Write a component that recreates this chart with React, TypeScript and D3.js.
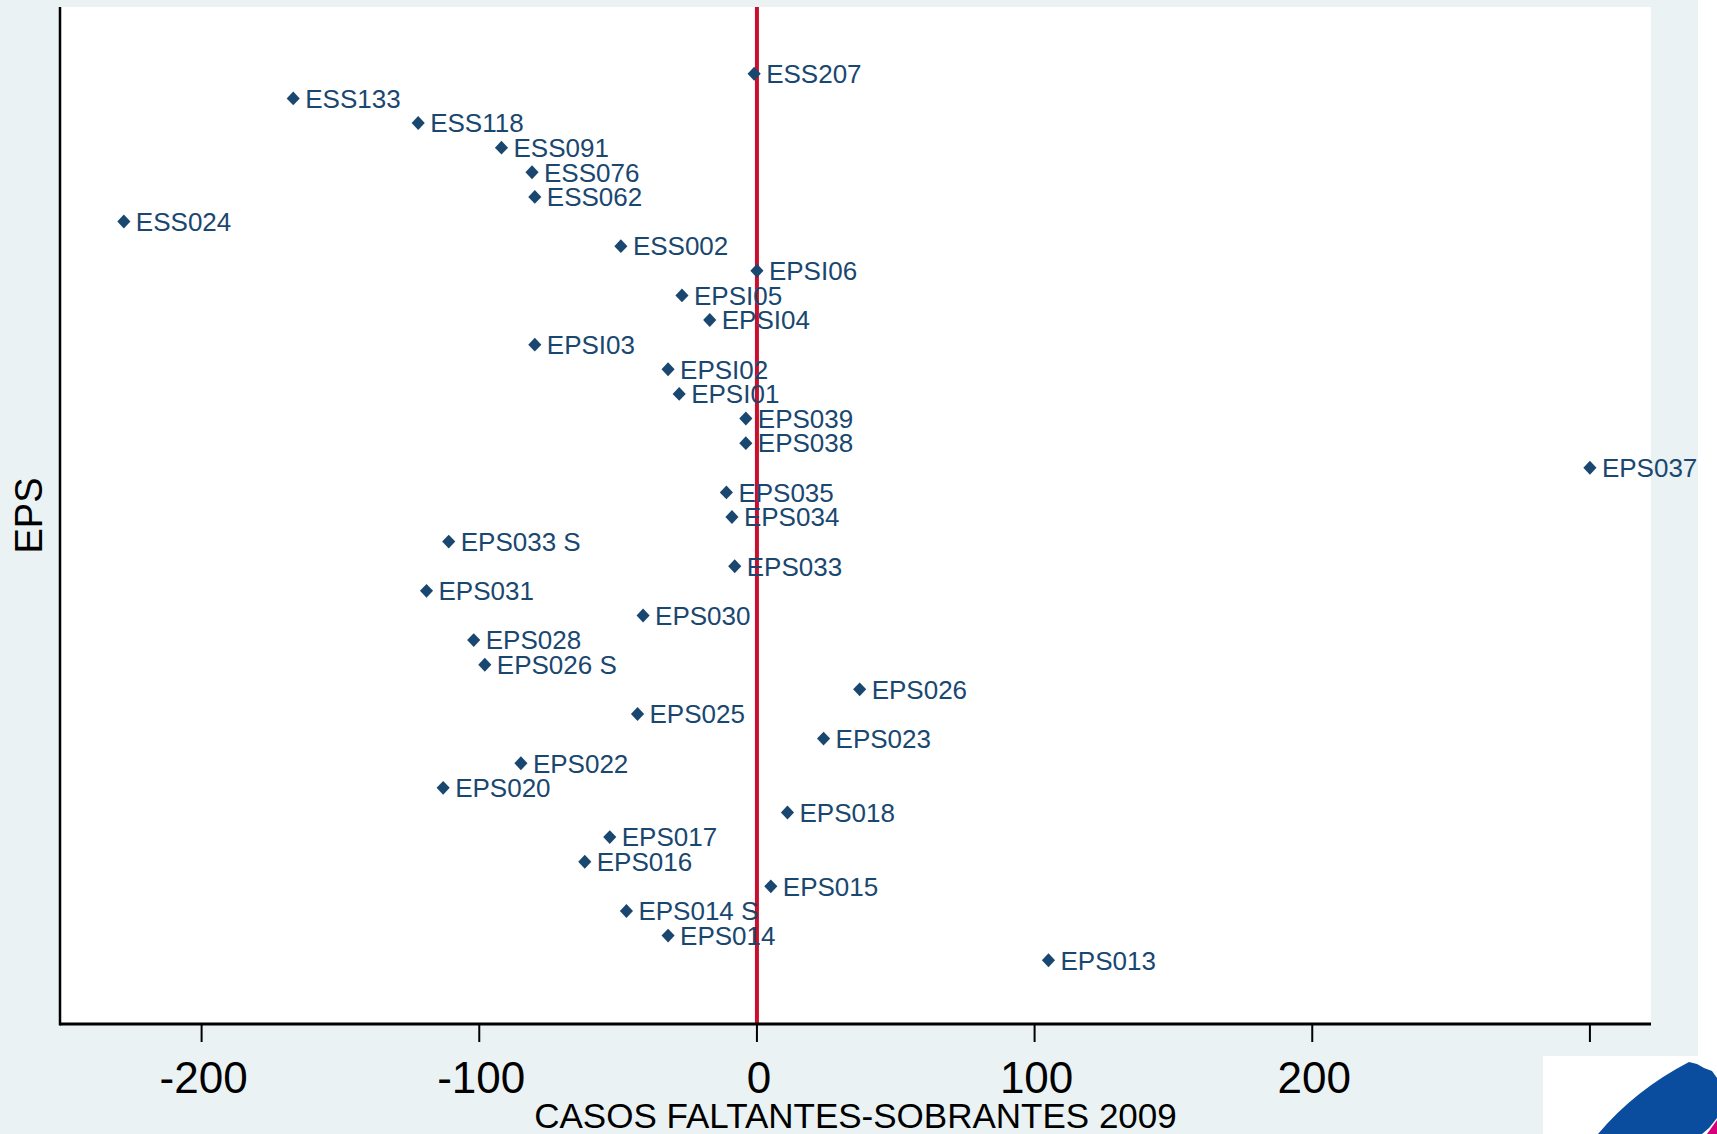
import React from "react";
import * as d3 from "d3";

const categories = [
  "ESS207", "ESS133", "ESS118", "ESS091", "ESS076", "ESS062", "ESS024", "ESS002",
  "EPSI06", "EPSI05", "EPSI04", "EPSI03", "EPSI02", "EPSI01",
  "EPS039", "EPS038", "EPS037", "EPS035", "EPS034", "EPS033 S", "EPS033", "EPS031",
  "EPS030", "EPS028", "EPS026 S", "EPS026", "EPS025", "EPS023", "EPS022", "EPS020",
  "EPS018", "EPS017", "EPS016", "EPS015", "EPS014 S", "EPS014", "EPS013",
];

const values = [
  -1, -167, -122, -92, -81, -80, -228, -49,
  0, -27, -17, -80, -32, -28,
  -4, -4, 300, -11, -9, -111, -8, -119,
  -41, -102, -98, 37, -43, 24, -85, -113,
  11, -53, -62, 5, -47, -32, 105,
];

const xTicks = [-200, -100, 0, 100, 200, 300];
const xTitle = "CASOS FALTANTES-SOBRANTES 2009";
const yTitle = "EPS";

const W = 1717;
const H = 1134;
const PL = 60, PR = 1651, PT = 7, PB = 1024;
const NAVY = "#1a476f";
const FONT = "'Liberation Sans', Arial, Helvetica, sans-serif";

export default function App() {
  const x = d3.scaleLinear().domain([-251, 322]).range([PL, PR]);
  const y = d3.scalePoint<string>().domain(categories).range([PT + 1.5, PB + 1.5]).padding(2.65);
  const diamond = d3.symbol().type(d3.symbolDiamond2 ?? d3.symbolDiamond).size(110)();

  return (
    <svg
      width={W}
      height={H}
      style={{ position: "absolute", left: 0, top: 0, display: "block" }}
      fontFamily={FONT}
    >
      <rect x={0} y={0} width={W} height={H} fill="#ffffff" />
      <rect x={0} y={0} width={1698} height={H} fill="#eaf2f3" />
      <rect x={PL} y={PT} width={PR - PL} height={PB - PT} fill="#ffffff" />

      {/* zero line */}
      <line x1={x(0)} x2={x(0)} y1={PT} y2={PB} stroke="#c8102e" strokeWidth={4} />

      {/* points */}
      {categories.map((c, i) => {
        const cx = x(values[i]);
        const cy = y(c) as number;
        return (
          <g key={c}>
            <path d={diamond as string} transform={`translate(${cx},${cy}) scale(1,1.05)`} fill={NAVY} />
            <text x={cx + 12} y={cy} dy="0.36em" fontSize={26} fill={NAVY}>
              {c}
            </text>
          </g>
        );
      })}

      {/* axes */}
      <line x1={PL} x2={PL} y1={PT} y2={PB + 1.5} stroke="#000" strokeWidth={2.5} />
      <line x1={PL} x2={PR} y1={PB} y2={PB} stroke="#000" strokeWidth={3} />
      {xTicks.map((t) => (
        <g key={t}>
          <line x1={x(t)} x2={x(t)} y1={PB} y2={PB + 18} stroke="#000" strokeWidth={2} />
          <text x={x(t) + 2} y={1093} textAnchor="middle" fontSize={44} fill="#000">
            {t}
          </text>
        </g>
      ))}
      <text x={(PL + PR) / 2} y={1128} textAnchor="middle" fontSize={35} fill="#000">
        {xTitle}
      </text>
      <text
        transform={`translate(42,${(PT + PB) / 2}) rotate(-90)`}
        textAnchor="middle"
        fontSize={38}
        fill="#000"
      >
        {yTitle}
      </text>

      {/* logo fragment */}
      <rect x={1543} y={1056} width={W - 1543} height={H - 1056} fill="#ffffff" />
      <path
        d="M1598,1134 Q1635,1090 1689,1062 L1697,1064 L1704,1068 L1712,1071 L1717,1078 L1717,1118 L1709,1128 L1702,1134 Z"
        fill="#0a4d9e"
      />
      <path d="M1707,1134 L1717,1120 L1717,1134 Z" fill="#d4007a" />
    </svg>
  );
}
